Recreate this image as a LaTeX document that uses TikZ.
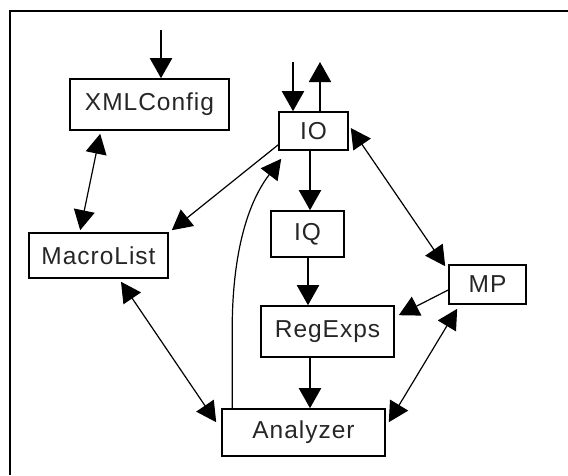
\documentclass[tikz,border=0pt]{standalone}
\usepackage{fontspec}
\setmainfont{Liberation Sans}[LetterSpace=4]
\usetikzlibrary{arrows.meta,calc}
\begin{document}
\begin{tikzpicture}[x=1pt,y=-1pt,
  box/.style={draw,line width=1.6pt,rectangle,inner sep=0pt,
    font=\fontsize{24.5}{28}\selectfont,text=black!85},
  arr/.style={line width=1.2pt,-{Triangle[length=20pt,width=21pt]}},
  darr/.style={line width=1.2pt,{Triangle[length=20pt,width=21pt]}-{Triangle[length=20pt,width=21pt]}},
  varr/.style={line width=2pt,-{Triangle[length=20pt,width=22pt]}}]
\useasboundingbox (0,0) rectangle (568,475);
\draw[line width=2.5pt] (10,475) -- (10,11) -- (568,11);

\node[box,minimum width=159pt,minimum height=51pt] (xml) at (149.5,104.5) {XMLConfig};
\node[box,minimum width=69pt,minimum height=38pt] (io) at (313.5,131) {IO};
\node[box,minimum width=73pt,minimum height=46pt] (iq) at (307.5,234) {IQ};
\node[box,minimum width=139pt,minimum height=45pt] (ml) at (98.5,255.5) {MacroList};
\node[box,minimum width=77pt,minimum height=39pt] (mp) at (487.5,284.5) {MP};
\node[box,minimum width=133pt,minimum height=51pt] (re) at (327.5,331.5) {RegExps};
\node[box,minimum width=163pt,minimum height=47pt] (an) at (303.5,432.5) {Analyzer};

\coordinate (xin) at (161,30);
\coordinate (ioin) at (293,62);
\coordinate (ioout) at (320,62);

\draw[varr] (xin) -- (xin |- xml.north);
\draw[varr] (ioin) -- (ioin |- io.north);
\draw[varr] (ioout |- io.north) -- (ioout);

\draw[darr] ($(xml.south west)+(31,3)$) -- ($(ml.north west)+(52,-2)$);
\draw[arr] ($(io.south west)+(0,-6)$) -- ($(ml.north east)+(3,-2)$);
\draw[arr] ($(an.north west)+(11,0)$) -- ($(an.north west)+(11,-79)$)
  .. controls ($(an.north west)+(11,-129)$) and ($(an.north west)+(18,-194)$) .. ($(io.south west)+(3,8)$);
\draw[varr] ($(io.south)+(-3.5,0)$) -- ($(iq.north)+(2.5,0)$);
\draw[darr] ($(io.east)+(2,-3)$) -- ($(mp.north west)+(-3,2)$);
\draw[varr] ($(iq.south)+(0.5,0)$) -- ($(re.north)+(-19.5,0)$);
\draw[arr] ($(mp.west)+(0,5.5)$) -- ($(re.north east)+(4,10)$);
\draw[varr] ($(re.south)+(-17.5,0)$) -- ($(an.north)+(6.5,0)$);
\draw[darr] ($(ml.south)+(22.5,3)$) -- ($(an.north west)+(-5,14)$);
\draw[darr] ($(mp.south west)+(9,4)$) -- ($(an.north east)+(3,14)$);
\end{tikzpicture}
\end{document}
